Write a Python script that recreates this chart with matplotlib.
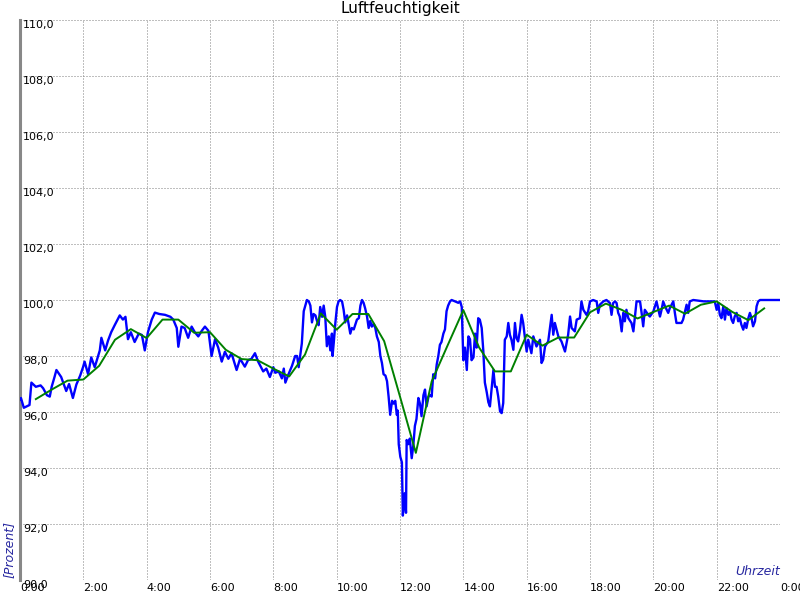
import matplotlib
matplotlib.use("Agg")
import matplotlib.pyplot as plt

# Messwerte (Stunden, Prozent)
blue_hours = [0.00, 0.03, 0.12, 0.30, 0.36, 0.50, 0.65, 0.73, 0.85, 0.94, 1.00, 1.09, 1.15, 1.30, 1.46, 1.55,
              1.67, 1.78, 1.90, 1.99, 2.04, 2.15, 2.25, 2.36, 2.52, 2.57, 2.69, 2.78, 2.88, 2.99, 3.15, 3.25,
              3.33, 3.41, 3.50, 3.62, 3.75, 3.85, 3.94, 4.04, 4.16, 4.26, 4.40, 4.58, 4.75, 4.84, 4.95, 5.00,
              5.10, 5.20, 5.31, 5.42, 5.52, 5.63, 5.74, 5.84, 5.95, 6.05, 6.16, 6.26, 6.37, 6.47, 6.58, 6.68,
              6.84, 6.95, 7.10, 7.20, 7.31, 7.42, 7.52, 7.68, 7.78, 7.89, 8.00, 8.06, 8.17, 8.27, 8.33, 8.38,
              8.48, 8.59, 8.69, 8.75, 8.80, 8.90, 8.96, 9.01, 9.06, 9.12, 9.17, 9.22, 9.27, 9.33, 9.38, 9.43,
              9.48, 9.54, 9.59, 9.64, 9.69, 9.75, 9.80, 9.85, 9.87, 9.91, 9.96, 10.01, 10.06, 10.11, 10.17,
              10.22, 10.27, 10.33, 10.43, 10.48, 10.54, 10.64, 10.70, 10.75, 10.80, 10.85, 10.90, 10.96,
              11.01, 11.06, 11.11, 11.17, 11.22, 11.27, 11.33, 11.38, 11.43, 11.48, 11.54, 11.59, 11.64,
              11.69, 11.75, 11.80, 11.85, 11.90, 11.93, 11.96, 12.01, 12.06, 12.09, 12.15, 12.19, 12.21,
              12.26, 12.31, 12.37, 12.42, 12.47, 12.52, 12.58, 12.63, 12.68, 12.74, 12.79, 12.84, 12.90,
              12.95, 13.00, 13.05, 13.11, 13.16, 13.21, 13.26, 13.31, 13.37, 13.42, 13.47, 13.52, 13.58,
              13.63, 13.74, 13.84, 13.90, 13.95, 14.00, 14.05, 14.11, 14.16, 14.21, 14.26, 14.32, 14.37,
              14.42, 14.47, 14.52, 14.58, 14.63, 14.68, 14.74, 14.79, 14.84, 14.89, 14.95, 15.00, 15.05,
              15.10, 15.16, 15.21, 15.26, 15.31, 15.37, 15.42, 15.47, 15.52, 15.58, 15.63, 15.68, 15.73,
              15.79, 15.84, 15.89, 15.94, 16.00, 16.05, 16.10, 16.15, 16.21, 16.31, 16.42, 16.47, 16.52,
              16.58, 16.68, 16.79, 16.84, 16.89, 17.00, 17.10, 17.21, 17.31, 17.37, 17.42, 17.52, 17.58,
              17.68, 17.73, 17.79, 17.89, 17.94, 18.00, 18.10, 18.21, 18.26, 18.31, 18.42, 18.52, 18.63,
              18.68, 18.73, 18.79, 18.84, 18.89, 18.94, 19.00, 19.05, 19.10, 19.15, 19.21, 19.31, 19.37,
              19.42, 19.47, 19.58, 19.63, 19.68, 19.73, 19.84, 19.89, 20.00, 20.10, 20.21, 20.26, 20.31,
              20.37, 20.47, 20.52, 20.63, 20.68, 20.73, 20.89, 20.94, 21.05, 21.10, 21.15, 21.26, 21.60,
              21.94, 22.00, 22.05, 22.10, 22.15, 22.21, 22.26, 22.31, 22.37, 22.42, 22.47, 22.52, 22.57,
              22.63, 22.68, 22.73, 22.78, 22.84, 22.89, 22.94, 23.00, 23.05, 23.10, 23.15, 23.21, 23.26,
              23.31, 23.37, 24.00]
blue_values = [96.45, 96.5, 96.15, 96.25, 97.05, 96.9, 96.95, 96.85, 96.6, 96.55, 96.9, 97.25, 97.5, 97.25, 96.75, 97.0,
               96.5, 96.98, 97.3, 97.6, 97.8, 97.35, 97.95, 97.6, 98.2, 98.65, 98.2, 98.55, 98.85, 99.1, 99.45, 99.3,
               99.4, 98.6, 98.85, 98.5, 98.8, 98.75, 98.2, 98.85, 99.3, 99.55, 99.5, 99.47, 99.4, 99.3, 99.0, 98.33,
               99.05, 99.0, 98.65, 99.05, 98.85, 98.7, 98.9, 99.05, 98.9, 98.0, 98.6, 98.3, 97.8, 98.15, 97.9, 98.1,
               97.5, 97.9, 97.62, 97.85, 97.9, 98.1, 97.8, 97.45, 97.55, 97.25, 97.6, 97.4, 97.45, 97.2, 97.55, 97.05,
               97.35, 97.65, 98.0, 98.0, 97.6, 98.45, 99.6, 99.8, 100.0, 99.95, 99.8, 99.2, 99.5, 99.45, 99.25, 99.1,
               99.75, 99.4, 99.8, 99.4, 98.35, 98.7, 98.2, 98.8, 98.0, 98.5, 99.2, 99.75, 99.95, 100.0, 99.95,
               99.65, 99.2, 99.45, 98.8, 99.0, 98.95, 99.3, 99.35, 99.8, 100.0, 99.9, 99.7, 99.4,
               99.0, 99.25, 99.05, 99.15, 99.0, 98.7, 98.5, 98.0, 97.75, 97.35, 97.3, 97.1, 96.55,
               95.9, 96.4, 96.3, 96.4, 95.9, 96.05, 94.85, 94.4, 94.2, 92.3, 93.1, 92.4, 95.0,
               94.85, 95.05, 94.35, 94.8, 95.5, 95.75, 96.5, 96.3, 95.85, 96.6, 96.8, 96.2, 96.55,
               96.6, 96.55, 97.35, 97.2, 97.7, 98.0, 98.4, 98.5, 98.8, 98.95, 99.6, 99.8, 99.95,
               100.0, 99.95, 99.9, 99.95, 99.75, 97.85, 98.3, 97.5, 98.7, 98.6, 97.85, 97.95, 98.8,
               98.3, 99.35, 99.3, 99.0, 98.2, 97.05, 96.7, 96.35, 96.2, 96.8, 97.5, 96.9, 96.9,
               96.56, 96.02, 95.96, 96.32, 98.58, 98.7, 99.18, 98.76, 98.58, 98.22, 99.18, 98.64, 98.52,
               98.94, 99.47, 99.18, 98.7, 98.16, 98.58, 98.34, 98.1, 98.7, 98.34, 98.58, 97.75, 97.87,
               98.34, 98.52, 99.47, 98.76, 99.18, 98.7, 98.52, 98.16, 98.76, 99.41, 99.0, 98.88, 99.3,
               99.35, 99.95, 99.65, 99.47, 99.59, 99.95, 100.0, 99.95, 99.54, 99.83, 99.95, 100.0, 99.89,
               99.47, 99.89, 99.95, 99.89, 99.54, 99.41, 98.88, 99.54, 99.24, 99.65, 99.35, 99.18, 98.88,
               99.41, 99.95, 99.95, 99.54, 99.06, 99.65, 99.47, 99.41, 99.59, 99.95, 99.41, 99.65, 99.95,
               99.77, 99.54, 99.71, 99.95, 99.54, 99.18, 99.18, 99.3, 99.83, 99.54, 99.95, 100.0, 99.95,
               99.95, 99.65, 99.89, 99.47, 99.35, 99.77, 99.3, 99.71, 99.47, 99.59, 99.3, 99.18, 99.41,
               99.54, 99.24, 99.35, 99.12, 98.94, 99.18, 99.0, 99.35, 99.54, 99.35, 99.06, 99.24, 99.77,
               99.95, 100.0, 100.0]

# gleitender Mittelwert
green_hours = [0.5, 1.0, 1.5, 2.0, 2.5, 3.0, 3.5, 4.0, 4.5, 5.0, 5.5, 6.0, 6.5, 7.0, 7.5, 8.0, 8.5, 9.0,
               9.5, 10.0, 10.5, 11.0, 11.5, 12.0, 12.5, 13.0, 13.5, 14.0, 14.5, 15.0, 15.5, 16.0, 16.5,
               17.0, 17.5, 18.0, 18.5, 19.0, 19.5, 20.0, 20.5, 21.0, 21.5, 22.0, 22.5, 23.0, 23.5]
green_values = [96.46, 96.8, 97.12, 97.16, 97.65, 98.58, 98.96, 98.64, 99.3, 99.3, 98.83, 98.85, 98.22, 97.89,
                97.85, 97.55, 97.27, 98.05, 99.52, 98.94, 99.5, 99.5, 98.53, 96.55, 94.54, 97.09, 98.37,
                99.64, 98.3, 97.45, 97.45, 98.76, 98.37, 98.66, 98.66, 99.56, 99.87, 99.65, 99.34, 99.57,
                99.8, 99.51, 99.83, 99.95, 99.57, 99.28, 99.7]

y_ticks = [90, 92, 94, 96, 98, 100, 102, 104, 106, 108, 110]
x_ticks = [0, 2, 4, 6, 8, 10, 12, 14, 16, 18, 20, 22, 24]
x_labels = ['0:00', '2:00', '4:00', '6:00', '8:00', '10:00', '12:00', '14:00', '16:00',
            '18:00', '20:00', '22:00', '0:00']

fig = plt.figure(figsize=(8, 6), dpi=100)
ax = fig.add_axes([20/800, 20/600, 760/800, 560/600])

ax.plot(blue_hours, blue_values, color='#0000ff', linewidth=1.7, zorder=3)
ax.plot(green_hours, green_values, color='#008000', linewidth=1.4, zorder=4)

ax.set_xlim(0, 24)
ax.set_ylim(90, 110)
ax.set_xticks(x_ticks)
ax.set_xticklabels(x_labels)
ax.set_yticks(y_ticks)
ax.set_yticklabels([('%.1f' % v).replace('.', ',') for v in y_ticks])

ax.grid(True, color='#808080', linestyle=(0, (1, 2)), linewidth=0.72, zorder=1)
for s in ['top', 'right', 'bottom']:
    ax.spines[s].set_visible(False)
ax.spines['left'].set_color('#888888')
ax.spines['left'].set_linewidth(2.2)

ax.tick_params(axis='both', length=0, labelsize=8, colors='black')
ax.tick_params(axis='y', pad=-2)
ax.tick_params(axis='x', pad=2)
for lab in ax.get_yticklabels():
    lab.set_horizontalalignment('left')
    lab.set_verticalalignment('top')
for lab in ax.get_xticklabels():
    lab.set_horizontalalignment('left')

fig.text(0.5, 1 - 8/600, 'Luftfeuchtigkeit', ha='center', va='center', fontsize=11)
fig.text(9/800, 1 - 578/600, '[Prozent]', rotation=90, ha='center', va='bottom',
         fontsize=9, style='italic', color='#2828a0')
fig.text(780/800, 1 - 578/600, 'Uhrzeit', ha='right', va='bottom',
         fontsize=9, style='italic', color='#2828a0')

fig.savefig('out.png', dpi=100)
